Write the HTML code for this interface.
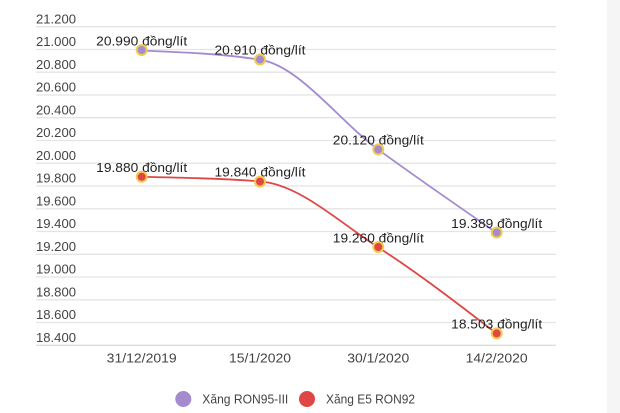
<!DOCTYPE html>
<html><head><meta charset="utf-8"><style>
html,body{margin:0;padding:0;background:#fff;}
svg{display:block;}
text{font-family:"Liberation Sans",Arial,sans-serif;}
</style></head><body>
<svg width="620" height="413" viewBox="0 0 620 413" xmlns="http://www.w3.org/2000/svg">
<rect x="0" y="0" width="620" height="413" fill="#fff"/>
<rect x="607" y="0" width="13" height="413" fill="#f5f5f5"/>
<g stroke="#e4e4e4" stroke-width="1.3">
<line x1="36" x2="556" y1="26.7" y2="26.7"/>
<line x1="36" x2="556" y1="49.5" y2="49.5"/>
<line x1="36" x2="556" y1="72.2" y2="72.2"/>
<line x1="36" x2="556" y1="95" y2="95"/>
<line x1="36" x2="556" y1="117.7" y2="117.7"/>
<line x1="36" x2="556" y1="140.5" y2="140.5"/>
<line x1="36" x2="556" y1="163.2" y2="163.2"/>
<line x1="36" x2="556" y1="186" y2="186"/>
<line x1="36" x2="556" y1="208.8" y2="208.8"/>
<line x1="36" x2="556" y1="231.5" y2="231.5"/>
<line x1="36" x2="556" y1="254.3" y2="254.3"/>
<line x1="36" x2="556" y1="277" y2="277"/>
<line x1="36" x2="556" y1="299.8" y2="299.8"/>
<line x1="36" x2="556" y1="322.5" y2="322.5"/>
<line x1="36" x2="556" y1="345.3" y2="345.3" stroke="#dcdcdc"/>
</g>
<g fill="#444" font-size="13">
<text x="36" y="23.3" textLength="40" lengthAdjust="spacingAndGlyphs">21.200</text>
<text x="36" y="46.1" textLength="40" lengthAdjust="spacingAndGlyphs">21.000</text>
<text x="36" y="68.8" textLength="40" lengthAdjust="spacingAndGlyphs">20.800</text>
<text x="36" y="91.6" textLength="40" lengthAdjust="spacingAndGlyphs">20.600</text>
<text x="36" y="114.3" textLength="40" lengthAdjust="spacingAndGlyphs">20.400</text>
<text x="36" y="137.1" textLength="40" lengthAdjust="spacingAndGlyphs">20.200</text>
<text x="36" y="159.8" textLength="40" lengthAdjust="spacingAndGlyphs">20.000</text>
<text x="36" y="182.6" textLength="40" lengthAdjust="spacingAndGlyphs">19.800</text>
<text x="36" y="205.4" textLength="40" lengthAdjust="spacingAndGlyphs">19.600</text>
<text x="36" y="228.1" textLength="40" lengthAdjust="spacingAndGlyphs">19.400</text>
<text x="36" y="250.9" textLength="40" lengthAdjust="spacingAndGlyphs">19.200</text>
<text x="36" y="273.6" textLength="40" lengthAdjust="spacingAndGlyphs">19.000</text>
<text x="36" y="296.4" textLength="40" lengthAdjust="spacingAndGlyphs">18.800</text>
<text x="36" y="319.1" textLength="40" lengthAdjust="spacingAndGlyphs">18.600</text>
<text x="36" y="341.9" textLength="40" lengthAdjust="spacingAndGlyphs">18.400</text>
</g>
<g fill="#444" font-size="13" text-anchor="middle">
<text x="141.7" y="362.5" textLength="70" lengthAdjust="spacingAndGlyphs">31/12/2019</text>
<text x="260" y="362.5" textLength="62" lengthAdjust="spacingAndGlyphs">15/1/2020</text>
<text x="378.3" y="362.5" textLength="62" lengthAdjust="spacingAndGlyphs">30/1/2020</text>
<text x="496.7" y="362.5" textLength="62" lengthAdjust="spacingAndGlyphs">14/2/2020</text>
</g>
<path d="M141.7,50.6 C181.14,52.12 220.56,53.63 260,59.7 C299.44,65.77 338.86,120.75 378.3,149.6 C417.74,178.45 457.26,205.63 496.7,232.8" fill="none" stroke="#a48bd0" stroke-width="1.8"/>
<path d="M141.7,176.9 C181.14,177.65 220.56,178.4 260,181.4 C299.44,184.4 338.86,222.04 378.3,247.4 C417.74,272.76 457.26,303.18 496.7,333.6" fill="none" stroke="#e04646" stroke-width="1.8"/>
<g fill="#222" font-size="13" text-anchor="middle">
<text x="141.7" y="45.6" textLength="91" lengthAdjust="spacingAndGlyphs">20.990 đồng/lít</text>
<text x="260" y="54.7" textLength="91" lengthAdjust="spacingAndGlyphs">20.910 đồng/lít</text>
<text x="378.3" y="144.6" textLength="91" lengthAdjust="spacingAndGlyphs">20.120 đồng/lít</text>
<text x="496.7" y="227.8" textLength="91" lengthAdjust="spacingAndGlyphs">19.389 đồng/lít</text>
<text x="141.7" y="171.9" textLength="91" lengthAdjust="spacingAndGlyphs">19.880 đồng/lít</text>
<text x="260" y="176.4" textLength="91" lengthAdjust="spacingAndGlyphs">19.840 đồng/lít</text>
<text x="378.3" y="242.4" textLength="91" lengthAdjust="spacingAndGlyphs">19.260 đồng/lít</text>
<text x="496.7" y="328.6" textLength="91" lengthAdjust="spacingAndGlyphs">18.503 đồng/lít</text>
</g>
<g stroke="#f2cb4e" stroke-width="2">
<circle cx="141.7" cy="50" r="5" fill="#a48bd0"/>
<circle cx="260" cy="59.5" r="5" fill="#a48bd0"/>
<circle cx="378.3" cy="149.4" r="5" fill="#a48bd0"/>
<circle cx="496.7" cy="232.5" r="5" fill="#a48bd0"/>
<circle cx="141.7" cy="176.8" r="5" fill="#e04646"/>
<circle cx="260" cy="181.6" r="5" fill="#e04646"/>
<circle cx="378.3" cy="247" r="5" fill="#e04646"/>
<circle cx="496.7" cy="333.4" r="5" fill="#e04646"/>
</g>
<circle cx="183.3" cy="399" r="8" fill="#a48bd0"/>
<text x="202.3" y="403.5" fill="#444" font-size="13" textLength="86" lengthAdjust="spacingAndGlyphs">Xăng RON95-III</text>
<circle cx="307" cy="399" r="8" fill="#e04646"/>
<text x="326" y="403.5" fill="#444" font-size="13" textLength="89" lengthAdjust="spacingAndGlyphs">Xăng E5 RON92</text>
</svg>
</body></html>
